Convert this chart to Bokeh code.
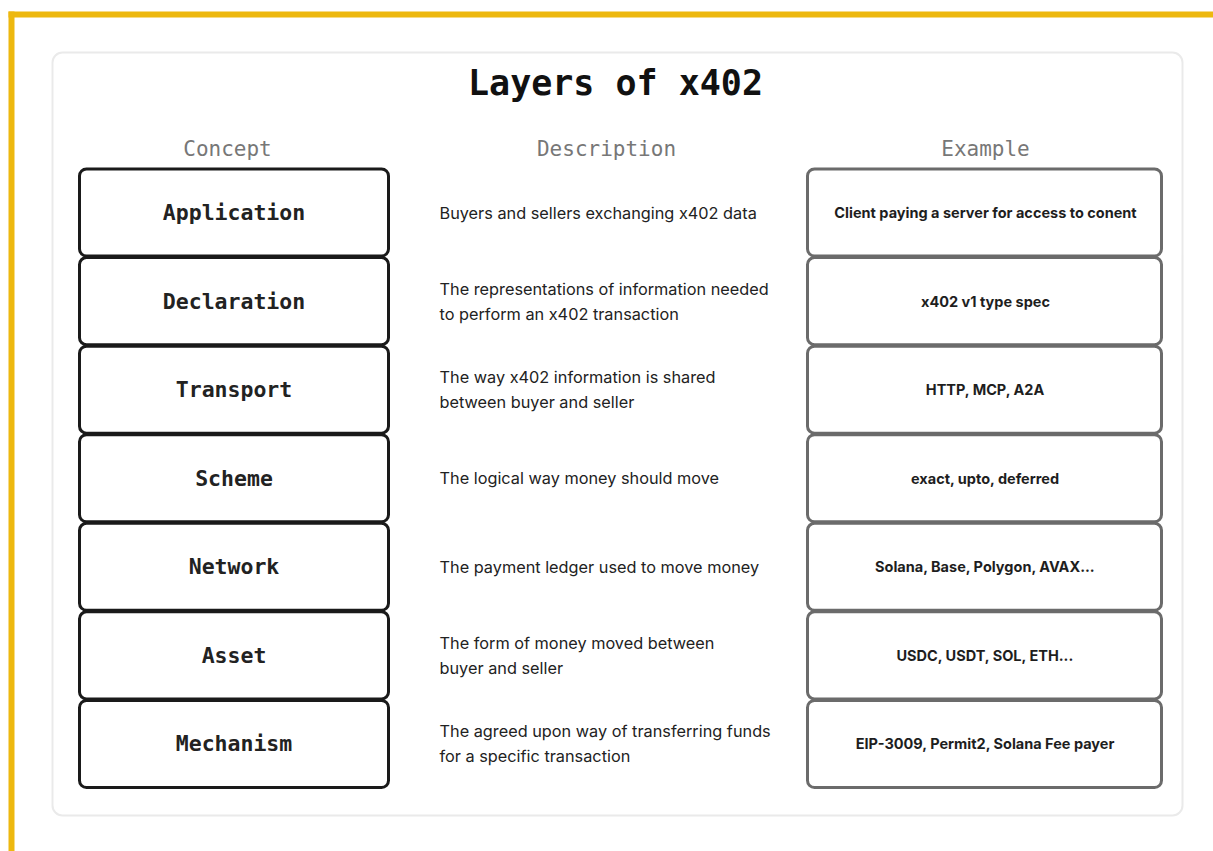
from bokeh.plotting import figure
from bokeh.models import Range1d
from bokeh.core.properties import value
from bokeh.embed import file_html
from bokeh.resources import INLINE

# ---- data ----
title = "Layers of x402"
headers = ["Concept", "Description", "Example"]
concepts = ["Application", "Declaration", "Transport", "Scheme", "Network", "Asset", "Mechanism"]
descriptions = [
    "Buyers and sellers exchanging x402 data",
    "The representations of information needed\nto perform an x402 transaction",
    "The way x402 information is shared\nbetween buyer and seller",
    "The logical way money should move",
    "The payment ledger used to move money",
    "The form of money moved between\nbuyer and seller",
    "The agreed upon way of transferring funds\nfor a specific transaction",
]
examples = [
    "Client paying a server for access to conent",
    "x402 v1 type spec",
    "HTTP, MCP, A2A",
    "exact, upto, deferred",
    "Solana, Base, Polygon, AVAX...",
    "USDC, USDT, SOL, ETH...",
    "EIP-3009, Permit2, Solana Fee payer",
]

# ---- layout (pixels) ----
W, H = 1213, 851
MONO = "DejaVu Sans Mono"
SANS = "Inter"
YELLOW = "#EDB80F"

p = figure(width=W, height=H, output_backend="svg", toolbar_location=None,
           x_range=Range1d(0, W), y_range=Range1d(H, 0),
           min_border=0, min_border_left=0, min_border_right=0,
           min_border_top=0, min_border_bottom=0)
p.axis.visible = False
p.grid.visible = False
p.outline_line_color = None
p.background_fill_color = "white"
p.border_fill_color = "white"

# yellow frame (top and left)
p.quad(left=[8, 8], right=[W, 14], top=[11, 11], bottom=[17, H],
       fill_color=YELLOW, line_color=None)

# card
p.quad(left=[52], right=[1182], top=[52], bottom=[815],
       fill_color="white", line_color="#EAEAEA", line_width=2, border_radius=10)

# title
p.text(x=[615], y=[82], text=[title], text_font=value(MONO), text_font_style="bold",
       text_font_size="35px", text_align="center", text_baseline="middle",
       text_color="#111111")

# headers
col_x = [227, 606, 985]
p.text(x=col_x, y=[148] * 3, text=headers, text_font=value(MONO),
       text_font_size="21px", text_align="center", text_baseline="middle",
       text_color="#777777")

# rows
n = len(concepts)
top0, step = 168.5, 88.57
tops = [top0 + i * step for i in range(n)]
bots = [t + step - 1.5 for t in tops]
mids = [(t + b) / 2 for t, b in zip(tops, bots)]

p.quad(left=[79] * n, right=[388] * n, top=tops, bottom=bots,
       fill_color="white", line_color="#1A1A1A", line_width=3, border_radius=7)
p.quad(left=[807] * n, right=[1161] * n, top=tops, bottom=bots,
       fill_color="white", line_color="#6B6B6B", line_width=3, border_radius=7)

p.text(x=[233.5] * n, y=mids, text=concepts, text_font=value(MONO),
       text_font_style="bold", text_font_size="21.5px", text_align="center",
       text_baseline="middle", text_color="#222222")

p.text(x=[985] * n, y=mids, text=examples, text_font=value(SANS),
       text_font_style="bold", text_font_size="14.5px", text_align="center",
       text_baseline="middle", text_color="#1E1E1E")

# description lines
lh = 25
dx, dy, dt = [], [], []
for m, d in zip(mids, descriptions):
    lines = d.split("\n")
    k = len(lines)
    for j, ln in enumerate(lines):
        dx.append(439)
        dy.append(m + (j - (k - 1) / 2) * lh)
        dt.append(ln)
p.text(x=dx, y=dy, text=dt, text_font=value(SANS), text_font_size="16.3px",
       text_align="left", text_baseline="middle", text_color="#222222")

open("out.html", "w").write(file_html(p, INLINE))
